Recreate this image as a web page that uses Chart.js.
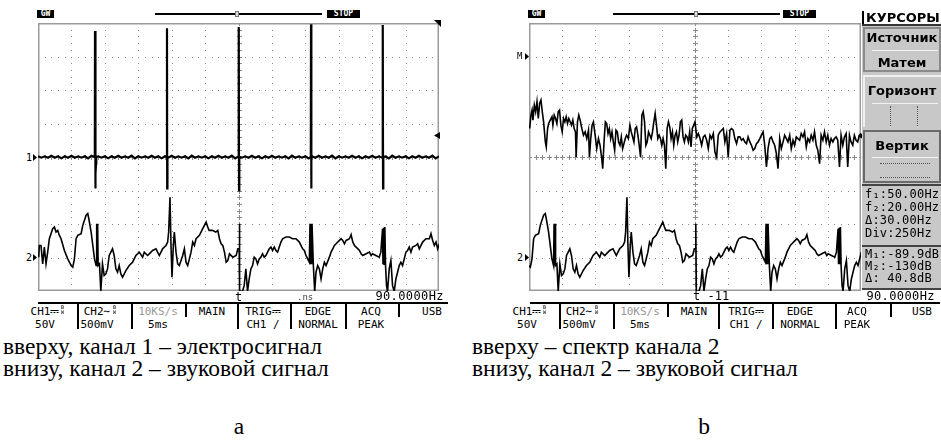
<!DOCTYPE html>
<html><head><meta charset="utf-8">
<script src="https://cdn.jsdelivr.net/npm/chart.js@4.4.1/dist/chart.umd.min.js"></script>
<style>
html,body{margin:0;padding:0;background:#fff;}
body{width:941px;height:441px;position:relative;overflow:hidden;}
canvas{position:absolute;}
</style></head><body>
<canvas id="cl" width="401" height="268" style="left:38px;top:23px"></canvas>
<canvas id="cr" width="332" height="268" style="left:529px;top:23px"></canvas>
<script>
// ---------- DATA ----------
// CH1 (50 V/div, 5 ms/div): baseline noise sampled every 0.5 ms, volts
const ch1Noise = [1,-1,1,-1,2,-1,1,-2,1,-1,2,-1,1,-1,1,-2,2,-1,1,-1,
 1,-2,1,-1,2,-1,1,-1,2,-2,1,-1,1,-1,2,-1,1,-2,1,-1,
 2,-1,1,-1,1,-2,2,-1,1,-1,1,-2,1,-1,2,-1,1,-1,2,-2,
 1,-1,1,-1,2,-1,1,-2,1,-1,2,-1,1,-1,1,-2,2,-1,1,-1,
 1,-2,1,-1,2,-1,1,-1,2,-2,1,-1,1,-1,2,-1,1,-2,1,-1,
 2,-1,1,-1,1,-2,2,-1,1,-1,1,-2,1,-1,2,-1,1,-1,2,-2,1];
const ch1NoiseStep = 0.5;
// CH1 pulses: time (ms) and level (V)
const ch1PulseT = [8.48,8.53,8.56,8.60,8.64,8.68,8.72, 19.27,19.30,19.33,19.37, 30.02,30.05,30.08,30.12, 40.82,40.85,40.88,40.92, 51.57,51.60,51.63,51.67];
const ch1PulseV = [0,188,-47,-15,-25,-10,0, 0,192,-47,0, 0,194,-50,0, 0,198,-47,0, 0,197,-47,0];

// CH2 sound signal (500 mV/div): time (ms) and level (mV)
const ch2T = [0.1,0.2,0.45,0.7,0.95,1.2,1.45,1.7,2.2,2.45,
 2.7,2.95,3.2,3.45,3.95,4.45,4.95,5.2,5.45,5.7,
 5.95,6.45,6.7,7.2,7.45,7.6,7.95,8.2,8.45,8.7,
 8.78,8.85,8.92,9.0,9.2,9.4,9.65,9.9,10.15,10.4,
 10.65,10.9,11.15,11.4,11.65,11.9,12.15,12.4,12.65,13.15,
 13.65,14.15,14.65,15.15,15.65,15.9,16.4,16.65,17.15,17.65,
 18.15,18.4,18.65,19.15,19.4,19.55,19.75,19.9,20.05,20.25,
 20.4,20.65,20.9,21.15,21.65,21.9,22.15,22.4,22.65,22.9,
 23.15,23.4,23.65,24.15,24.65,24.9,25.15,25.4,25.6,26.1,
 26.6,26.9,27.15,27.4,27.65,27.9,28.15,28.4,28.65,29.15,
 29.65,29.9,30.1,30.12,30.2,30.6,30.85,31.1,31.35,31.6,
 31.85,32.1,32.35,32.6,32.85,33.1,33.35,33.6,33.85,34.1,
 34.35,34.6,34.85,35.1,35.35,35.6,35.85,36.1,36.35,36.6,
 37.1,37.6,38.1,38.6,39.1,39.6,39.85,40.1,40.35,40.6,
 40.7,40.78,40.86,40.94,41.0,41.2,41.4,41.6,41.85,42.1,
 42.35,42.6,42.85,43.1,43.6,43.85,44.1,44.35,44.6,45.1,
 45.35,45.6,45.85,46.1,46.6,46.85,47.1,47.35,47.6,48.1,
 48.35,48.6,49.1,49.6,49.85,50.05,50.55,51.05,51.3,51.55,
 51.62,51.7,51.78,51.9,52.0,52.15,52.3,52.55,52.8,53.05,
 53.3,53.55,53.8,54.05,54.3,54.55,54.8,55.05,55.3,55.55,
 55.8,56.05,56.55,56.8,57.05,57.55,58.05,58.55,58.8,59.05,
 59.3,59.55,59.8,60.05];
const ch2mV = [5,180,180,-95,155,-95,80,280,430,455,
 380,405,330,280,105,-20,-120,-145,-20,280,
 330,355,480,630,655,580,380,180,-20,-120,
 505,-120,505,-120,-95,-505,-95,-270,-245,-170,
 30,80,130,30,-170,-220,-120,-245,-295,-195,
 -120,-70,30,80,5,80,30,55,105,130,
 30,80,130,180,230,380,900,180,-295,180,
 380,80,-95,-120,30,130,-70,-120,-20,80,
 230,180,280,330,430,480,530,455,405,405,
 380,405,280,205,180,80,-70,-45,55,5,
 30,130,130,505,-505,-505,-420,-170,-505,-320,
 -170,-120,5,-20,-95,-20,5,55,5,30,
 80,130,155,105,155,105,80,155,230,280,
 305,305,280,280,230,130,105,30,-20,-70,
 505,-100,505,-100,505,-120,-505,-220,-120,-170,
 -320,-170,-70,-120,5,80,130,180,205,255,
 280,255,205,255,280,340,230,180,155,105,
 55,30,55,80,30,55,30,5,80,430,
 -100,445,-100,455,-120,-420,-505,-170,-45,-420,
 -505,-320,-220,-120,-70,-120,-20,80,105,155,
 80,155,180,205,130,230,280,280,355,255,
 180,230,130,205];

// MATH (FFT of CH2, 250 Hz/div): frequency (Hz) and level (dB)
const fftHz = [5,15,23,30,40,50,60,70,80,90,
 100,110,123,130,140,148,160,173,180,190,
 200,210,220,230,240,250,260,270,280,290,
 300,310,320,330,340,350,355,365,375,385,
 398,410,423,435,448,455,465,475,485,498,
 510,523,535,548,555,565,575,585,595,605,
 615,625,635,645,655,665,675,685,695,705,
 715,725,735,748,760,770,780,790,800,810,
 820,830,840,850,860,870,880,890,900,910,
 920,930,940,950,960,970,980,990,1000,1010,
 1020,1030,1040,1050,1060,1070,1080,1090,1100,1110,
 1120,1130,1140,1150,1160,1170,1180,1190,1200,1210,
 1220,1230,1240,1250,1263,1275,1288,1300,1313,1325,
 1338,1350,1363,1375,1388,1400,1413,1425,1438,1450,
 1463,1475,1488,1500,1513,1525,1538,1550,1563,1575,
 1588,1600,1613,1625,1638,1650,1663,1675,1688,1700,
 1713,1725,1738,1750,1763,1775,1788,1800,1813,1825,
 1838,1850,1863,1875,1888,1900,1913,1925,1938,1950,
 1963,1975,1988,2000,2013,2025,2038,2050,2063,2075,
 2088,2100,2113,2125,2138,2150,2163,2175,2188,2200,
 2213,2225,2238,2250,2263,2275,2288,2300,2313,2325,
 2338,2350,2363,2375,2388,2400,2413,2425,2438,2450,
 2463,2475,2488,2500];
const fftDb = [-43,-35,-32,-38,-29,-33,-27,-37,-28,-26,
 -33,-39,-51,-54,-43,-40,-38,-36,-41,-35,
 -37,-40,-33,-32,-41,-45,-37,-39,-36,-40,
 -37,-39,-41,-38,-43,-45,-60,-39,-35,-38,
 -43,-47,-45,-49,-44,-60,-49,-41,-39,-47,
 -55,-49,-53,-61,-67,-51,-39,-40,-46,-43,
 -49,-45,-51,-56,-44,-45,-51,-53,-48,-55,
 -52,-49,-47,-49,-41,-45,-48,-51,-43,-42,
 -47,-53,-60,-35,-33,-39,-53,-51,-45,-47,
 -49,-45,-39,-34,-41,-49,-47,-49,-53,-49,
 -53,-67,-43,-39,-42,-49,-45,-53,-47,-45,
 -51,-47,-39,-38,-48,-51,-47,-48,-51,-45,
 -54,-43,-41,-39,-48,-46,-49,-53,-48,-47,
 -50,-55,-47,-49,-46,-57,-60,-47,-45,-44,
 -43,-51,-46,-60,-44,-43,-44,-49,-52,-48,
 -48,-50,-49,-51,-52,-48,-51,-53,-56,-55,
 -52,-51,-49,-47,-45,-53,-66,-55,-49,-48,
 -51,-53,-58,-67,-49,-55,-51,-47,-49,-51,
 -47,-55,-50,-53,-48,-49,-50,-46,-48,-45,
 -54,-49,-51,-47,-50,-45,-53,-56,-64,-47,
 -50,-45,-51,-47,-53,-49,-51,-49,-48,-50,
 -66,-47,-53,-48,-46,-66,-47,-51,-53,-47,
 -50,-51,-47,-46];

// ---------- build point tables ----------
const ch1Pts = ch1Noise.map((v,i)=>({x:i*ch1NoiseStep,y:v}))
  .concat(ch1PulseT.map((t,i)=>({x:t,y:ch1PulseV[i]})))
  .sort((a,b)=>a.x-b.x);
const n2 = Math.min(ch2T.length, ch2mV.length);
const ch2Pts = ch2T.slice(0,n2).map((t,i)=>({x:t,y:ch2mV[i]}));
const nf = Math.min(fftHz.length, fftDb.length);
const fftPts = fftHz.slice(0,nf).map((f,i)=>({x:f,y:fftDb[i]}));

// ---------- scope grid plugin (uses chart scales) ----------
const scopeGrid = {
  id:'scopeGrid',
  beforeDatasetsDraw(chart, args, o){
    const {ctx, chartArea:a} = chart;
    const xs = chart.scales[o.x], ys = chart.scales[o.y];
    const nx = Math.round((xs.max-xs.min)/o.xStep), ny = Math.round((ys.max-ys.min)/o.yStep);
    ctx.save();
    ctx.fillStyle = o.dot;
    for (let i=1;i<nx;i++){
      const px = Math.round(xs.getPixelForValue(xs.min+i*o.xStep));
      const c = (i*2===nx);
      for (let j=0;j<=ny*5;j++){
        const py = Math.round(ys.getPixelForValue(ys.min+j*o.yStep/5));
        if (c){ctx.fillRect(px-2,py,5,1);ctx.fillRect(px,py-2,1,5);} else ctx.fillRect(px,py,1,1);
      }
    }
    for (let j=1;j<ny;j++){
      const py = Math.round(ys.getPixelForValue(ys.min+j*o.yStep));
      const c = (j*2===ny);
      for (let i=0;i<=nx*5;i++){
        const px = Math.round(xs.getPixelForValue(xs.min+i*o.xStep/5));
        if (c){ctx.fillRect(px-2,py,5,1);ctx.fillRect(px,py-2,1,5);} else ctx.fillRect(px,py,1,1);
      }
    }
    ctx.strokeStyle = o.border; ctx.lineWidth = 1.5;
    ctx.strokeRect(a.left+0.75,a.top+0.75,a.width-1.5,a.height-1.5);
    ctx.restore();
  }
};
const baseOpts = (scales, grid) => ({
  responsive:false, animation:false, events:[], devicePixelRatio:1,
  layout:{padding:0},
  plugins:{legend:{display:false}, tooltip:{enabled:false}, scopeGrid:grid},
  scales
});
const line = (data, w, xa, ya) => ({data, showLine:true, borderColor:'#000', borderWidth:w, pointRadius:0, tension:0, xAxisID:xa, yAxisID:ya, clip:0});

new Chart(document.getElementById('cl'), {
  type:'scatter',
  data:{datasets:[ line(ch1Pts,2.2,'x','y'), line(ch2Pts,1.6,'x','y2') ]},
  options: baseOpts({
    x:{type:'linear',min:0,max:60,display:false},
    y:{type:'linear',min:-200,max:200,display:false},
    y2:{type:'linear',min:-500,max:3500,display:false}
  }, {x:'x',y:'y',xStep:5,yStep:50,dot:'#8a8a8a',border:'#9a9a9a'}),
  plugins:[scopeGrid]
});
new Chart(document.getElementById('cr'), {
  type:'scatter',
  data:{datasets:[ line(fftPts,1.6,'xf','yf'), line(ch2Pts,1.6,'x','y2') ]},
  options: baseOpts({
    x:{type:'linear',min:5,max:55,display:false},
    xf:{type:'linear',min:0,max:2500,display:false},
    yf:{type:'linear',min:-140,max:20,display:false},
    y2:{type:'linear',min:-500,max:3500,display:false}
  }, {x:'x',y:'y2',xStep:5,yStep:500,dot:'#8a8a8a',border:'#9a9a9a'}),
  plugins:[scopeGrid]
});

// ---------- text & decorations ----------
const MONO = '"DejaVu Sans Mono", monospace';
const SANS = '"DejaVu Sans", sans-serif';
const SERIF = '"Liberation Serif", "Times New Roman", serif';
function el(css, text){const d=document.createElement('div');d.style.cssText='position:absolute;white-space:nowrap;'+css;if(text!=null)d.textContent=text;document.body.appendChild(d);return d;}
function txt(x, base, s, font, size, o={}){
  const k = o.k || 0.846;
  const tr = o.align==='center'?'transform:translateX(-50%);':o.align==='right'?'transform:translateX(-100%);':'';
  return el(`left:${x}px;top:${(base-k*size).toFixed(1)}px;font:${o.w||'normal'} ${size}px ${font};line-height:${size}px;color:${o.c||'#000'};letter-spacing:${o.ls||0}px;${tr}`, s);
}
function box(x,y,w,h,css){return el(`left:${x}px;top:${y}px;width:${w}px;height:${h}px;${css||''}`);}
function tri(x,y,w,h,poly,c){return box(x,y,w,h,`background:${c||'#000'};clip-path:polygon(${poly});`);}

function screenTop(gwL, lineL, lineR, mk, stopL){
  box(gwL,10,17,8,'background:#000');
  txt(gwL+8.5,17,'GW',MONO,8,{w:'bold',c:'#fff',align:'center'});
  box(lineL,13,lineR-lineL,2,'background:#000');
  box(mk-2,11,4,6,'background:#ddd;border:1px solid #777;box-sizing:border-box');
  box(stopL,10,33,8,'background:#000');
  txt(stopL+16.5,17,'STOP',MONO,8,{w:'bold',c:'#fff',align:'center'});
}
// left screen
screenTop(37,155,322,237,327);
tri(434,20,7,7,'0 0,100% 0,100% 100%');
tri(434,132,6,7,'100% 0,0 50%,100% 100%');
txt(26,161,'1',MONO,10); tri(33,154,4,7,'0 0,100% 50%,0 100%');
txt(26,261,'2',MONO,10); tri(33,254,4,7,'0 0,100% 50%,0 100%');
txt(235,301,'t',MONO,12);
txt(297,301,'.ns',MONO,9,{c:'#444'});
txt(444,300,'90.0000Hz',MONO,12,{ls:0.4,align:'right'});
box(38,302,410,1.5,'background:#000');
// right screen
screenTop(528,613,780,696,783);
tri(858,132,6,8,'100% 0,0 50%,100% 100%');
txt(517,60,'M',MONO,9); tri(525,53,4,7,'0 0,100% 50%,0 100%');
txt(517,261,'2',MONO,10); tri(525,254,4,7,'0 0,100% 50%,0 100%');
txt(693,300,'t -11',MONO,12);
txt(935,300,'90.0000Hz',MONO,12,{ls:0.4,align:'right'});
box(530,302,410,1.5,'background:#000');

// bottom soft-key bars
function bar(seps, cells){
  seps.forEach(([x,full])=>box(x,304,1.5,full?25:13,'background:#000'));
  cells.forEach(([x,t1,t2,col])=>{
    if(t1) txt(x,315,t1,MONO,11,{align:'center',c:col||'#000'});
    if(t2) txt(x,328,t2,MONO,11,{align:'center'});
  });
}
const leftCells = [[45,'CH1⎓','50V'],[97,'CH2∼','500mV'],[158,'10KS/s','5ms','#999'],[212,'MAIN',''],[263,'TRIG⎓','CH1 /'],[318,'EDGE','NORMAL'],[371,'ACQ','PEAK'],[432,'USB','']];
bar([[77,1],[131,1],[185,0],[237,1],[290,1],[345,1],[398,0]],leftCells);
const rightCells = [[527,'CH1⎓','50V'],[579,'CH2∼','500mV'],[640,'10KS/s','5ms','#999'],[694,'MAIN',''],[746,'TRIG⎓','CH1 /'],[800,'EDGE','NORMAL'],[857,'ACQ','PEAK'],[922,'USB','']];
bar([[559,1],[613,1],[667,0],[718,1],[772,1],[835,1],[890,0]],rightCells);
// tiny B/W marks
[61,113,543,595].forEach(x=>{txt(x,309,'B',MONO,5);txt(x,314,'W',MONO,5);});

// right-side cursor menu
box(862,11,2,14,'background:#000');
txt(866,22,'КУРСОРЫ',SANS,13,{w:'bold',ls:0});
box(862,24,79,266,'background:#c8c8c8;border-top:2px solid #333;box-sizing:border-box');
box(863,27,78,45,'border:2px solid #8a8a8a;box-sizing:border-box');
box(872,50,66,1,'background:#f2f2f2');
txt(902,42,'Источник',SANS,13,{w:'bold',align:'center'});
txt(902,67,'Матем',SANS,13,{w:'bold',align:'center'});
box(863,75,78,52,'border-top:2px solid #f0f0f0;border-left:2px solid #f0f0f0;box-sizing:border-box');
txt(902,95,'Горизонт',SANS,13,{w:'bold',align:'center'});
box(872,103,66,1,'background:#f2f2f2');
box(890,106,0,20,'border-left:1px dotted #555');
box(917,106,0,20,'border-left:1px dotted #555');
box(863,130,78,53,'border:2px solid #6a6a6a;box-sizing:border-box');
txt(902,150,'Вертик',SANS,13,{w:'bold',align:'center'});
box(872,157,66,1,'background:#f2f2f2');
box(880,163,50,0,'border-top:1px dotted #555');
box(880,177,50,0,'border-top:1px dotted #555');
box(862,184,79,2,'background:#444');
['f₁:50.00Hz','f₂:20.00Hz','Δ:30.00Hz','Div:250Hz'].forEach((s,i)=>txt(865,198+i*13,s,MONO,12,{ls:0.2}));
box(862,245,79,1.5,'background:#444');
['M₁:-89.9dB','M₂:-130dB','Δ: 40.8dB'].forEach((s,i)=>txt(865,258+i*12,s,MONO,12,{ls:0.2}));
box(862,288,79,1.5,'background:#444');

// captions
const CAP = 23.5;
txt(3,355,'вверху, канал 1 – электросигнал',SERIF,CAP,{k:0.8375});
txt(3,377,'внизу, канал 2 – звуковой сигнал',SERIF,CAP,{k:0.8375});
txt(472,355,'вверху – спектр канала 2',SERIF,CAP,{k:0.8375});
txt(472,377,'внизу, канал 2 – звуковой сигнал',SERIF,CAP,{k:0.8375});
txt(239,435,'a',SERIF,CAP,{k:0.8375,align:'center'});
txt(704,435,'b',SERIF,CAP,{k:0.8375,align:'center'});
</script>
</body></html>
